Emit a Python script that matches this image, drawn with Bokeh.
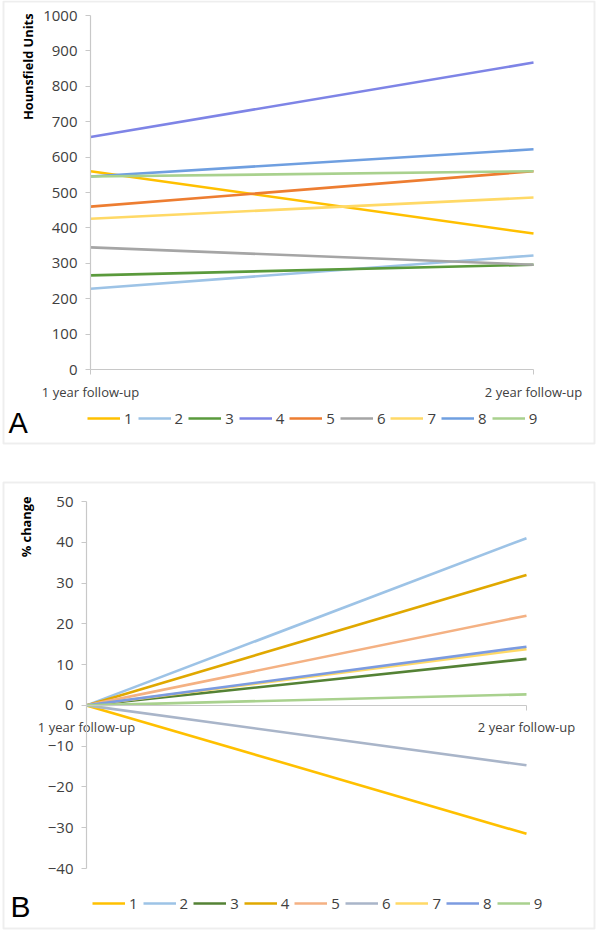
import math
from bokeh.plotting import figure
from bokeh.models import Range1d, FixedTicker, Legend, LegendItem, Label, BoxAnnotation
from bokeh.layouts import column
from bokeh.embed import file_html
from bokeh.resources import INLINE

# ---------------- data ----------------
categories = ["1 year follow-up", "2 year follow-up"]
series = ["1", "2", "3", "4", "5", "6", "7", "8", "9"]

# Panel A: Hounsfield Units
hu_1yr = [560, 228, 266, 657, 460, 345, 426, 545, 545]
hu_2yr = [384, 322, 296, 867, 560, 296, 486, 622, 560]
hu_ticks = [0, 100, 200, 300, 400, 500, 600, 700, 800, 900, 1000]

# Panel B: % change
pct_1yr = [0, 0, 0, 0, 0, 0, 0, 0, 0]
pct_2yr = [-31.5, 41.0, 11.4, 32.0, 22.0, -14.7, 13.8, 14.4, 2.7]
pct_ticks = [-40, -30, -20, -10, 0, 10, 20, 30, 40, 50]

colors_a = ["#FFC000", "#9DC3E6", "#5A9A3C", "#7E84E6", "#ED7D31",
            "#A5A5A5", "#FFD966", "#6F9FE0", "#A9D18E"]
colors_b = ["#FFC000", "#9DC3E6", "#548235", "#E0A800", "#F4B183",
            "#A9B5C9", "#FFD966", "#7C9BE0", "#A9D18E"]

FONT = "Open Sans"
TXT = "#404040"
AXC = "#C8C8C8"


def panel(w, h, box, ylo, yhi, yticks, frame_box):
    """box = (left, right, top, bottom) of the plotting area in canvas px (from top-left)."""
    left, right, top, bottom = box
    n = len(categories) - 1
    sx = (right - left) / n
    sy = (bottom - top) / (yhi - ylo)
    xr = Range1d(0 - left / sx, n + (w - right) / sx)
    yr = Range1d(ylo - (h - bottom) / sy, yhi + top / sy)
    p = figure(width=w, height=h, output_backend="svg", toolbar_location=None,
               x_range=xr, y_range=yr, min_border=0, margin=0)
    p.outline_line_color = None
    p.xgrid.visible = False
    p.ygrid.visible = False
    p.xaxis.fixed_location = 0
    p.yaxis.fixed_location = 0
    p.xaxis.bounds = (0, n)
    p.yaxis.bounds = (ylo, yhi)
    p.xaxis.ticker = FixedTicker(ticks=list(range(len(categories))))
    p.xaxis.major_label_overrides = {i: c for i, c in enumerate(categories)}
    p.yaxis.ticker = FixedTicker(ticks=yticks)
    for ax in (p.xaxis, p.yaxis):
        ax.axis_line_color = AXC
        ax.axis_line_width = 1.2
        ax.major_tick_line_color = AXC
        ax.minor_tick_line_color = None
        ax.major_tick_in = 0
        ax.major_tick_out = 5
        ax.major_label_text_font = FONT
        ax.major_label_text_color = TXT
    p.yaxis.major_label_text_font_size = "15px"
    p.yaxis.major_label_standoff = 8
    p.xaxis.major_label_text_font_size = "13px"
    p.xaxis.major_label_standoff = 8
    # outer panel border (decoration), screen px measured from the bottom-left
    fl, fr, ft, fb = frame_box
    p.add_layout(BoxAnnotation(left=fl, right=fr, top=h - ft, bottom=h - fb,
                               left_units="screen", right_units="screen",
                               top_units="screen", bottom_units="screen",
                               fill_alpha=0, line_color="#C6C6C6", line_width=2))
    return p


def add_lines(p, v1, v2, colors, loc):
    items = []
    xs = list(range(len(categories)))
    for s, a, b, c in zip(series, v1, v2, colors):
        r = p.line(x=xs, y=[a, b], line_color=c, line_width=2.6)
        items.append(LegendItem(label=s, renderers=[r]))
    leg = Legend(items=items, orientation="horizontal", location=loc,
                 glyph_width=33, glyph_height=16, label_height=16,
                 label_width=8, label_standoff=4, spacing=5,
                 padding=0, margin=0, border_line_color=None,
                 background_fill_alpha=0, label_text_font=FONT,
                 label_text_font_size="15px", label_text_color=TXT)
    p.add_layout(leg)


def add_texts(p, title, tx, ty, letter, lx, ly, lsize):
    p.add_layout(Label(x=tx, y=ty, x_units="screen", y_units="screen",
                       text=title, angle=math.pi / 2,
                       text_align="right", text_baseline="middle",
                       text_font=FONT, text_font_style="bold",
                       text_font_size="12.8px", text_color="#000000"))
    p.add_layout(Label(x=lx, y=ly, x_units="screen", y_units="screen",
                       text=letter, text_font="Liberation Sans",
                       text_font_size=lsize, text_color="#000000",
                       text_baseline="alphabetic"))


# ---------------- Panel A (canvas = page y 0..462) ----------------
HA = 462
pA = panel(597, HA, (90, 533, 15, 369), 0, 1000, hu_ticks, (3, 594, 1, 443))
add_lines(pA, hu_1yr, hu_2yr, colors_a, (87, HA - 428))
add_texts(pA, "Hounsfield Units", 27, HA - 13, "A", 8, HA - 422, "29px")

# ---------------- Panel B (canvas = page y 462..932) ----------------
HB = 470
OB = 462
pB = panel(597, HB, (86, 526, 501 - OB, 868 - OB), -40, 50, pct_ticks,
           (3, 594, 482 - OB, 928 - OB))
add_lines(pB, pct_1yr, pct_2yr, colors_b, (92, HB - (913 - OB)))
add_texts(pB, "% change", 25, HB - (496 - OB), "B", 10, HB - (906 - OB), "30px")

layout = column(pA, pB, spacing=0)
open("out.html", "w").write(file_html(layout, INLINE))
